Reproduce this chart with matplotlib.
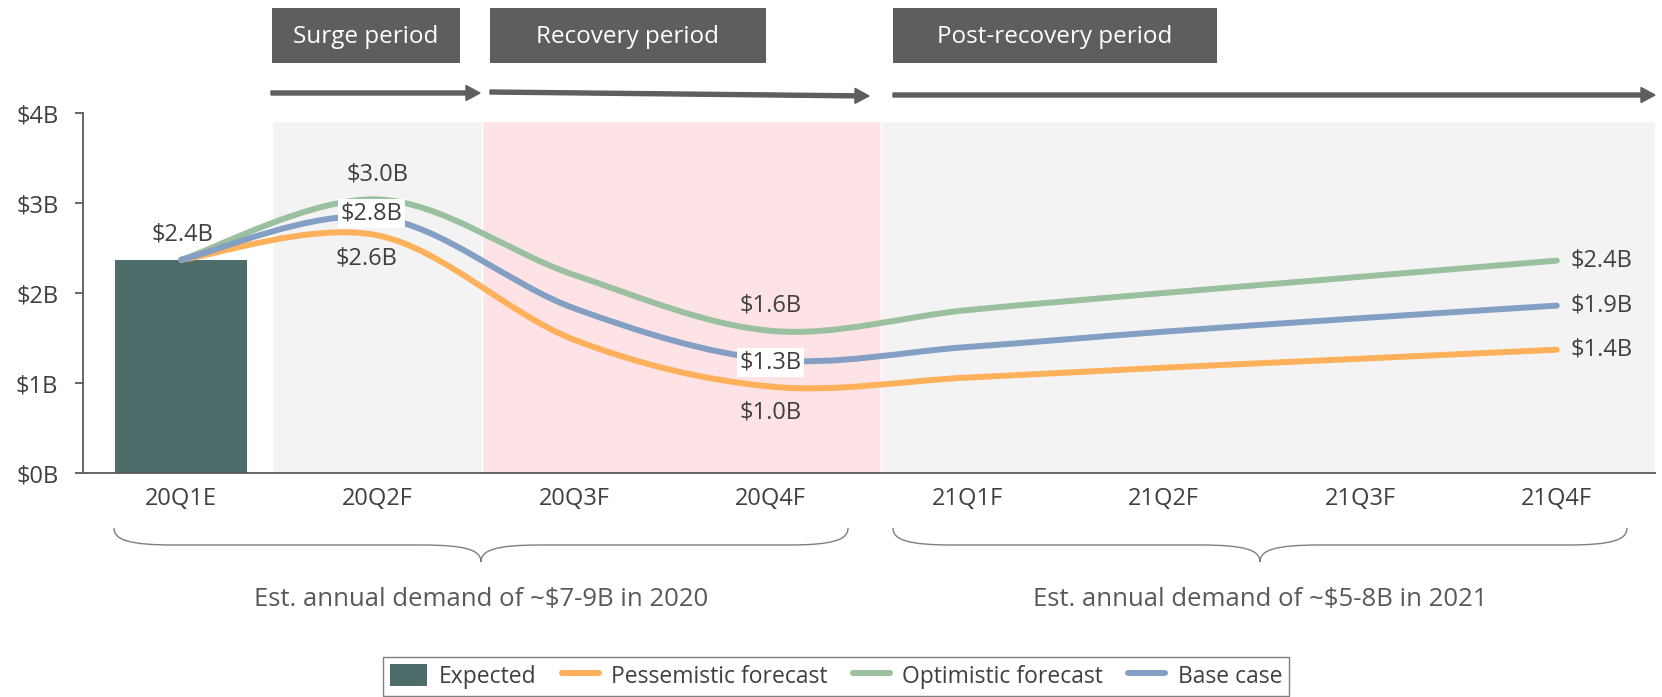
import matplotlib
matplotlib.use('Agg')
import matplotlib.pyplot as plt
import matplotlib.transforms as mtransforms
from matplotlib.path import Path
from matplotlib.patches import PathPatch, Patch, Rectangle, FancyArrow
from matplotlib.lines import Line2D

plt.rcParams['font.family'] = ['Open Sans', 'DejaVu Sans']

# quarterly demand, $B
quarters = ['20Q1E', '20Q2F', '20Q3F', '20Q4F', '21Q1F', '21Q2F', '21Q3F', '21Q4F']
expected = 2.37
pessimistic = [2.37, 2.64, 1.48, 0.96, 1.06, 1.17, 1.27, 1.37]
optimistic = [2.37, 3.04, 2.20, 1.58, 1.81, 2.00, 2.18, 2.36]
base_case = [2.37, 2.84, 1.83, 1.26, 1.40, 1.57, 1.72, 1.86]
y_ticks = [0, 1, 2, 3, 4]
y_labels = [r'\$%dB' % v for v in y_ticks]
periods = ['Surge period', 'Recovery period', 'Post-recovery period']
demand_notes = [r'Est. annual demand of ~\$7-9B in 2020',
                r'Est. annual demand of ~\$5-8B in 2021']

TEXT = '#404040'
GREEN = '#9BC09F'
BLUE = '#839FC4'
ORANGE = '#FFB05A'
BAR = '#4D6C6A'
DARK = '#5E5E60'
FS = 17

W, H = 1662, 697
fig = plt.figure(figsize=(W / 100, H / 100), dpi=100)
ax = fig.add_axes([83 / W, 1 - 473 / H, (1655 - 83) / W, (473 - 113) / H])

# pixel coordinates measured from the top-left corner
px = mtransforms.Affine2D().scale(0.01, -0.01).translate(0, H / 100) + fig.dpi_scale_trans


def fmt(v):
    return r'\$%.1fB' % v


def smooth_path(xs, ys):
    # cardinal spline through the points, written as cubic Beziers
    verts = [(xs[0], ys[0])]
    codes = [Path.MOVETO]
    n = len(xs)
    for i in range(n - 1):
        x0, y0 = xs[max(i - 1, 0)], ys[max(i - 1, 0)]
        x1, y1 = xs[i], ys[i]
        x2, y2 = xs[i + 1], ys[i + 1]
        x3, y3 = xs[min(i + 2, n - 1)], ys[min(i + 2, n - 1)]
        verts += [(x1 + (x2 - x0) / 6, y1 + (y2 - y0) / 6),
                  (x2 - (x3 - x1) / 6, y2 - (y3 - y1) / 6),
                  (x2, y2)]
        codes += [Path.CURVE4] * 3
    return Path(verts, codes)


x = list(range(len(quarters)))

# period shading
band_top = 3.91 / 4
ax.axvspan(0.46, 1.53, ymax=band_top, facecolor='#F3F3F3', edgecolor='white', lw=1, zorder=0)
ax.axvspan(1.53, 3.56, ymax=band_top, facecolor='#FEE3E6', edgecolor='white', lw=1, zorder=0)
ax.axvspan(3.56, 7.5, ymax=band_top, facecolor='#F3F3F3', edgecolor='white', lw=1, zorder=0)

ax.bar(0, expected, width=0.67, color=BAR, zorder=2)

for series, color in [(pessimistic, ORANGE), (optimistic, GREEN), (base_case, BLUE)]:
    ax.add_patch(PathPatch(smooth_path(x, series), fill=False, edgecolor=color,
                           lw=4.3, capstyle='round', joinstyle='round', zorder=3))

ax.set_xlim(-0.5, 7.5)
ax.set_ylim(0, 4)
ax.set_xticks(x)
ax.set_xticklabels(quarters)
ax.set_yticks(y_ticks)
ax.set_yticklabels(y_labels)
ax.tick_params(axis='x', length=0, pad=10, labelsize=FS, labelcolor=TEXT)
ax.tick_params(axis='y', length=5.8, width=1.3, color='#595959', pad=12,
               labelsize=FS, labelcolor=TEXT)
for side in ['top', 'right']:
    ax.spines[side].set_visible(False)
for side in ['left', 'bottom']:
    ax.spines[side].set_color('#595959')
    ax.spines[side].set_linewidth(1.3)
ax.set_facecolor('none')

white_box = dict(boxstyle='square,pad=0.1', fc='white', ec='none')


def label(xv, yv, text, dx, dy, boxed=False, ha='center'):
    ax.annotate(text, (xv, yv), xytext=(dx * 0.72, dy * 0.72), textcoords='offset points',
                ha=ha, va='center', fontsize=FS, color=TEXT, zorder=5,
                bbox=white_box if boxed else None)


label(0, expected, fmt(expected), 1, 25)
label(1, optimistic[1], fmt(optimistic[1]), 0, 25)
label(1, base_case[1], fmt(base_case[1]), -6, 4, boxed=True)
label(1, pessimistic[1], fmt(pessimistic[1]), -11, -23)
label(3, optimistic[3], fmt(optimistic[3]), 0, 25)
label(3, base_case[3], fmt(base_case[3]), 0, -3, boxed=True)
label(3, pessimistic[3], fmt(pessimistic[3]), 0, -26)
for series in [optimistic, base_case, pessimistic]:
    label(7, series[-1], fmt(series[-1]), 14, 0, ha='left')

# period headers and arrows
boxes = [(272, 460), (490, 766), (893, 1217)]
for name, (x0, x1) in zip(periods, boxes):
    fig.patches.append(Rectangle((x0, 8), x1 - x0, 55, transform=px,
                                 facecolor=DARK, edgecolor='none'))
    fig.text((x0 + x1) / 2 / W, 1 - 37 / H, name, ha='center', va='center',
             fontsize=FS + 0.5, color='white')

arrows = [((271, 93), (480, 93)), ((490, 92), (869, 96)), ((893, 95), (1655, 95))]
for (x0, y0), (x1, y1) in arrows:
    fig.patches.append(FancyArrow(x0, y0, x1 - x0, y1 - y0, width=4, head_width=15,
                                  head_length=14, length_includes_head=True,
                                  color=DARK, transform=px))


def brace(x0, x1, top=528, mid=545, tip=562):
    xm = (x0 + x1) / 2
    verts = [(x0, top), (x0, mid - 5), (x0 + 15, mid), (x0 + 60, mid),
             (xm - 60, mid), (xm - 15, mid), (xm, mid + 5), (xm, tip),
             (xm, mid + 5), (xm + 15, mid), (xm + 60, mid),
             (x1 - 60, mid), (x1 - 15, mid), (x1, mid - 5), (x1, top)]
    codes = [Path.MOVETO, Path.CURVE4, Path.CURVE4, Path.CURVE4,
             Path.LINETO, Path.CURVE4, Path.CURVE4, Path.CURVE4,
             Path.CURVE4, Path.CURVE4, Path.CURVE4,
             Path.LINETO, Path.CURVE4, Path.CURVE4, Path.CURVE4]
    fig.patches.append(PathPatch(Path(verts, codes), fill=False, edgecolor='#7F7F7F',
                                 lw=1, transform=px))
    return xm


for (x0, x1), note in zip([(114, 848), (893, 1627)], demand_notes):
    xm = brace(x0, x1)
    fig.text(xm / W, 1 - 599 / H, note, ha='center', va='center',
             fontsize=FS + 1.5, color='#595959')

handles = [Patch(facecolor=BAR, edgecolor='none'),
           Line2D([], [], color=ORANGE, lw=4.3, solid_capstyle='round'),
           Line2D([], [], color=GREEN, lw=4.3, solid_capstyle='round'),
           Line2D([], [], color=BLUE, lw=4.3, solid_capstyle='round')]
leg = fig.legend(handles, ['Expected', 'Pessemistic forecast', 'Optimistic forecast', 'Base case'],
                 loc='upper center', bbox_to_anchor=(836 / W, 1 - 657 / H), ncol=4,
                 fontsize=FS - 0.5, frameon=True, fancybox=False, framealpha=1,
                 borderpad=0.3, borderaxespad=0, handlelength=1.6, handleheight=1.1,
                 handletextpad=0.55, columnspacing=1.1, labelcolor=TEXT)
leg.get_frame().set_edgecolor('#7F7F7F')
leg.get_frame().set_linewidth(1)

fig.savefig('out.png', dpi=100)
